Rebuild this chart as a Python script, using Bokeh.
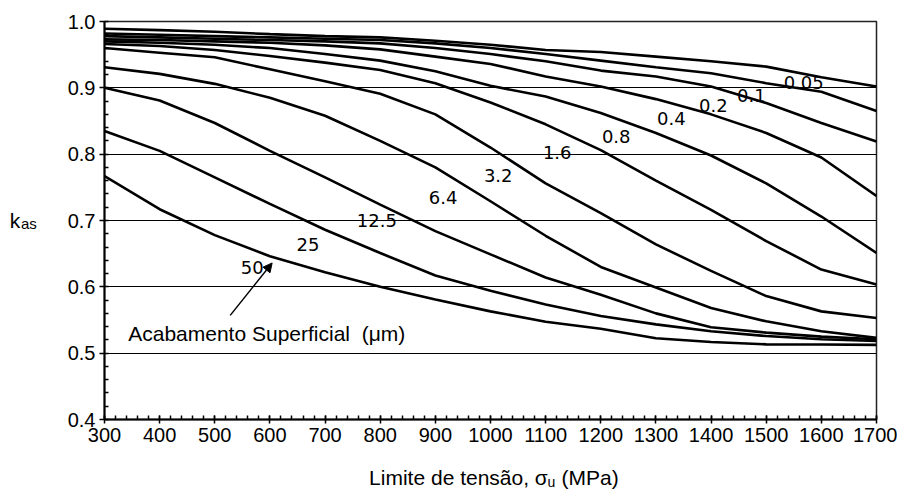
from bokeh.plotting import figure
from bokeh.layouts import row, column
from bokeh.models import FixedTicker, NumeralTickFormatter, Label, Arrow, NormalHead, Range1d
from bokeh.core.properties import value
from bokeh.embed import file_html
from bokeh.resources import INLINE

# ---- data ----
sigma_u = [300, 400, 500, 600, 700, 800, 900, 1000, 1100, 1200, 1300, 1400, 1500, 1600, 1700]
roughness = ["0.05", "0.1", "0.2", "0.4", "0.8", "1.6", "3.2", "6.4", "12.5", "25", "50"]
k_005 = [0.989, 0.987, 0.9845, 0.981, 0.978, 0.976, 0.971, 0.965, 0.957, 0.954, 0.947, 0.940, 0.932, 0.916, 0.902]
k_01 = [0.982, 0.980, 0.978, 0.976, 0.974, 0.972, 0.967, 0.960, 0.951, 0.941, 0.931, 0.922, 0.907, 0.894, 0.865]
k_02 = [0.978, 0.976, 0.974, 0.972, 0.970, 0.967, 0.960, 0.951, 0.940, 0.926, 0.917, 0.902, 0.877, 0.847, 0.819]
k_04 = [0.973, 0.972, 0.970, 0.968, 0.964, 0.958, 0.947, 0.936, 0.917, 0.902, 0.883, 0.860, 0.832, 0.795, 0.737]
k_08 = [0.970, 0.968, 0.965, 0.960, 0.951, 0.941, 0.925, 0.903, 0.887, 0.862, 0.832, 0.798, 0.756, 0.706, 0.651]
k_16 = [0.966, 0.963, 0.957, 0.948, 0.938, 0.927, 0.907, 0.878, 0.845, 0.806, 0.760, 0.716, 0.669, 0.626, 0.6035]
k_32 = [0.960, 0.953, 0.946, 0.928, 0.910, 0.891, 0.860, 0.810, 0.756, 0.711, 0.664, 0.624, 0.586, 0.563, 0.553]
k_64 = [0.931, 0.921, 0.906, 0.885, 0.858, 0.820, 0.780, 0.729, 0.677, 0.630, 0.599, 0.568, 0.548, 0.533, 0.523]
k_125 = [0.900, 0.881, 0.847, 0.805, 0.765, 0.724, 0.684, 0.649, 0.614, 0.588, 0.560, 0.539, 0.531, 0.525, 0.521]
k_25 = [0.835, 0.805, 0.765, 0.725, 0.686, 0.651, 0.617, 0.594, 0.5735, 0.556, 0.5434, 0.533, 0.5258, 0.521, 0.5183]
k_50 = [0.767, 0.717, 0.678, 0.646, 0.622, 0.600, 0.581, 0.563, 0.5474, 0.5368, 0.5225, 0.5168, 0.5133, 0.513, 0.5125]
series = [k_005, k_01, k_02, k_04, k_08, k_16, k_32, k_64, k_125, k_25, k_50]

# label anchors (sigma_u, k) for each curve's roughness label
label_x = [1568, 1473, 1404, 1328, 1228, 1121, 1014, 914, 794, 669, 568]
label_y = [0.908, 0.888, 0.873, 0.854, 0.826, 0.803, 0.768, 0.735, 0.700, 0.664, 0.629]

x_ticks = list(range(300, 1701, 100))
x_minor = list(range(300, 1701, 20))
y_ticks = [0.4, 0.5, 0.6, 0.7, 0.8, 0.9, 1.0]
y_minor = [round(0.4 + 0.02 * i, 2) for i in range(31)]

FONT = "Liberation Sans"
LEFT_W = 54
TOP_H = 456
W = 897
BOTTOM_H = 496 - TOP_H

# ---- main chart ----
p = figure(width=W - LEFT_W, height=TOP_H, output_backend="svg", toolbar_location=None,
           x_range=(300, 1700), y_range=(0.4, 1.0),
           min_border_left=50, min_border_right=21, min_border_top=21, min_border_bottom=37)
p.background_fill_color = "white"
p.border_fill_color = "white"
p.outline_line_color = "#222222"
p.outline_line_width = 1.5

p.xgrid.visible = False
p.ygrid.ticker = FixedTicker(ticks=[0.5, 0.6, 0.7, 0.8, 0.9])
p.ygrid.grid_line_color = "black"
p.ygrid.grid_line_width = 1

p.xaxis.ticker = FixedTicker(ticks=x_ticks, minor_ticks=x_minor)
p.yaxis.ticker = FixedTicker(ticks=y_ticks, minor_ticks=y_minor)
p.yaxis.formatter = NumeralTickFormatter(format="0.0")
for ax in (p.xaxis, p.yaxis):
    ax.axis_line_color = "black"
    ax.axis_line_width = 2
    ax.major_tick_line_color = "black"
    ax.minor_tick_line_color = "black"
    ax.major_tick_line_width = 1.5
    ax.minor_tick_line_width = 1.5
    ax.major_label_text_font = FONT
    ax.major_label_text_font_size = "20px"
    ax.major_label_text_color = "black"
p.xaxis.major_tick_in = 4
p.xaxis.major_tick_out = 4
p.xaxis.minor_tick_in = 4
p.xaxis.minor_tick_out = 0
p.xaxis.major_label_standoff = 4
p.yaxis.major_tick_in = 0
p.yaxis.major_tick_out = 5
p.yaxis.minor_tick_in = 4
p.yaxis.minor_tick_out = 0
p.yaxis.major_label_standoff = 4

for ys in series:
    p.line(sigma_u, ys, line_color="black", line_width=2.6)

for t, lx, ly in zip(roughness, label_x, label_y):
    p.add_layout(Label(x=lx, y=ly, text=t, text_font="DejaVu Sans", text_font_size="18px",
                       text_align="center", text_baseline="alphabetic", text_color="black"))

p.add_layout(Label(x=343, y=0.5295, text="Acabamento Superficial\u00a0 (\u03bcm)",
                   text_font=FONT, text_font_size="21px",
                   text_baseline="alphabetic", text_color="black"))
p.add_layout(Arrow(x_start=528, y_start=0.557, x_end=604, y_end=0.636,
                   line_color="black", line_width=1.5,
                   end=NormalHead(size=9, fill_color="black", line_color="black")))


def blank(width, height):
    f = figure(width=width, height=height, output_backend="svg", toolbar_location=None,
               x_range=Range1d(0, width), y_range=Range1d(height, 0),
               min_border=0, x_axis_location=None, y_axis_location=None)
    f.grid.visible = False
    f.outline_line_color = None
    f.background_fill_color = "white"
    f.border_fill_color = "white"
    return f


# ---- y-axis title: k_as ----
py = blank(LEFT_W, TOP_H)
py.text(x=[9.3], y=[228.3], text=["k"], text_font=value(FONT), text_font_size="21px",
        text_baseline="alphabetic", text_color="black")
py.text(x=[20.5], y=[232], text=["as"], text_font=value(FONT), text_font_size="15px",
        text_baseline="alphabetic", text_color="black")

# ---- x-axis title: Limite de tensão, σu (MPa) ----
px = blank(W, BOTTOM_H)
px.text(x=[368.6], y=[21], text=["Limite de tens\u00e3o, \u03c3"], text_font=value(FONT),
        text_font_size="21px", text_baseline="alphabetic", text_color="black")
px.text(x=[547], y=[25], text=["u"], text_font=value(FONT), text_font_size="14px",
        text_baseline="alphabetic", text_color="black")
px.text(x=[561], y=[21], text=["(MPa)"], text_font=value(FONT), text_font_size="21px",
        text_baseline="alphabetic", text_color="black")

layout = column(row(py, p), px)
open("out.html", "w").write(file_html(layout, INLINE))
